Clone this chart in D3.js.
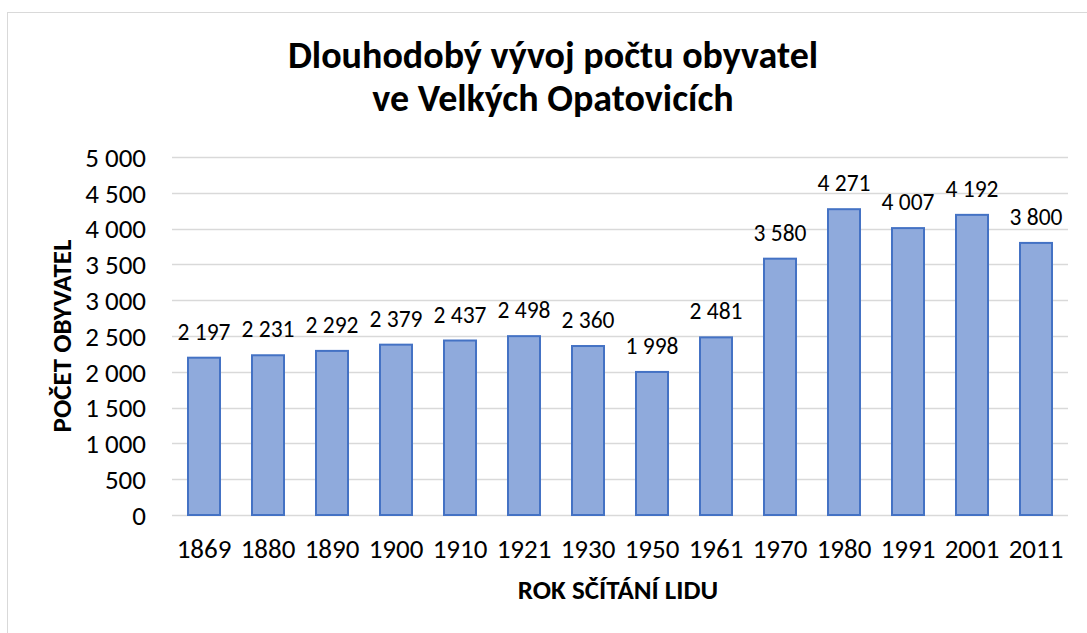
<!DOCTYPE html>
<html>
<head>
<meta charset="utf-8">
<script src="https://cdn.jsdelivr.net/npm/d3@7"></script>
<style>
  body { margin: 0; background: #fff; }
  text { font-family: Calibri, Carlito, Lato, sans-serif; }
</style>
</head>
<body>
<svg id="chart" width="1087" height="633"></svg>
<script>
const years = ['1869', '1880', '1890', '1900', '1910', '1921', '1930', '1950', '1961', '1970', '1980', '1991', '2001', '2011'];
const population = [2197, 2231, 2292, 2379, 2437, 2498, 2360, 1998, 2481, 3580, 4271, 4007, 4192, 3800];
const yTicks = [0, 500, 1000, 1500, 2000, 2500, 3000, 3500, 4000, 4500, 5000];
const titleLines = ['Dlouhodobý vývoj počtu obyvatel', 've Velkých Opatovicích'];

const fmt = d => d3.format(',')(d).replace(/,/g, ' ');

const margin = {top: 157, right: 19, bottom: 118, left: 172},
      W = 1087, H = 633;

const svg = d3.select('#chart');

// chart frame (runs off the page right and bottom)
svg.append('rect')
  .attr('x', 7.5).attr('y', 12.5)
  .attr('width', 1100).attr('height', 660)
  .attr('fill', '#fff')
  .attr('stroke', '#d9d9d9')
  .attr('stroke-width', 1);

const x = d3.scaleBand()
  .domain(years)
  .range([margin.left, W - margin.right])
  .paddingInner(0.5)
  .paddingOuter(0.25);

const y = d3.scaleLinear()
  .domain([0, 5000])
  .range([H - margin.bottom, margin.top]);

// gridlines
svg.append('g')
  .selectAll('line')
  .data(yTicks)
  .enter()
  .append('line')
    .attr('x1', margin.left)
    .attr('x2', W - margin.right)
    .attr('y1', d => Math.round(y(d)) + 0.5)
    .attr('y2', d => Math.round(y(d)) + 0.5)
    .attr('stroke', '#d9d9d9')
    .attr('stroke-width', 1.5);

// y tick labels
svg.append('g')
  .selectAll('text')
  .data(yTicks)
  .enter()
  .append('text')
    .attr('x', 146)
    .attr('y', d => y(d))
    .attr('dy', '0.36em')
    .attr('text-anchor', 'end')
    .style('font-size', '27px')
    .style('fill', '#000')
    .text(fmt);

// bars
svg.append('g')
  .selectAll('rect')
  .data(population)
  .enter()
  .append('rect')
    .attr('x', (d, i) => x(years[i]))
    .attr('y', d => y(d))
    .attr('width', x.bandwidth())
    .attr('height', d => y(0) - y(d))
    .attr('fill', '#8faadc')
    .attr('stroke', '#4472c4')
    .attr('stroke-width', 2);

// data labels
svg.append('g')
  .selectAll('text')
  .data(population)
  .enter()
  .append('text')
    .attr('x', (d, i) => x(years[i]) + x.bandwidth() / 2)
    .attr('y', d => y(d) - 18)
    .attr('text-anchor', 'middle')
    .style('font-size', '23.5px')
    .style('fill', '#000')
    .text(fmt);

// x tick labels
svg.append('g')
  .selectAll('text')
  .data(years)
  .enter()
  .append('text')
    .attr('x', d => x(d) + x.bandwidth() / 2)
    .attr('y', 558)
    .attr('text-anchor', 'middle')
    .style('font-size', '27px')
    .style('fill', '#000')
    .text(d => d);

// title
svg.append('g')
  .selectAll('text')
  .data(titleLines)
  .enter()
  .append('text')
    .attr('x', 553)
    .attr('y', (d, i) => 68 + i * 43)
    .attr('text-anchor', 'middle')
    .style('font-size', '38px')
    .style('font-weight', 700)
    .style('fill', '#000')
    .text(d => d);

// axis titles
svg.append('text')
  .attr('x', 618)
  .attr('y', 599)
  .attr('text-anchor', 'middle')
  .style('font-size', '27px')
  .style('font-weight', 700)
  .style('fill', '#000')
  .text('ROK SČÍTÁNÍ LIDU');

svg.append('text')
  .attr('transform', 'translate(71, 336) rotate(-90)')
  .attr('text-anchor', 'middle')
  .style('font-size', '27px')
  .style('font-weight', 700)
  .style('fill', '#000')
  .text('POČET OBYVATEL');
</script>
</body>
</html>
